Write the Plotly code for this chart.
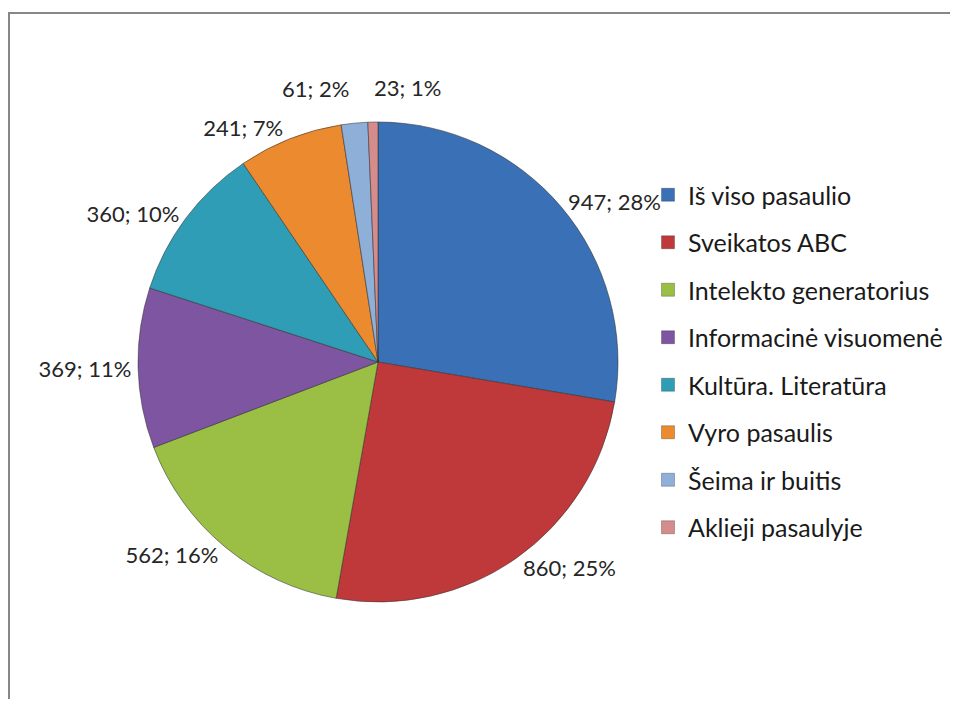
import math
import plotly.graph_objects as go

# Categories and values
categories = [
    "Iš viso pasaulio",
    "Sveikatos ABC",
    "Intelekto generatorius",
    "Informacinė visuomenė",
    "Kultūra. Literatūra",
    "Vyro pasaulis",
    "Šeima ir buitis",
    "Aklieji pasaulyje",
]
values = [947, 860, 562, 369, 360, 241, 61, 23]
# Percentages as printed on the chart
shown_percent = [28, 25, 16, 11, 10, 7, 2, 1]

colors = [
    "#3A70B5", "#C0393A", "#9BBF45", "#7D55A0",
    "#2E9DB5", "#EB8A2E", "#8EAFD8", "#D58C8C",
]

FONT = "Lato"
# page has an 8px body margin, so the figure is a bit smaller than the window
W, H = 950, 691
CX, CY, R = 378, 362, 240   # pie centre / radius in page pixels
SMALL = 2                   # last slices too thin for plotly's own labels
SMALL_DIST = 275
SMALL_ANCHOR = ["right", "left"]
LABEL_SIZE = 22


def px_x(x):
    return (x - 8) / W


def px_y(y):
    return 1 - (y - 8) / H


label_text = [f"{v}; {p}%" for v, p in zip(values, shown_percent)]
n_big = len(values) - SMALL

fig = go.Figure()

# Pie, clockwise from 12 o'clock like Excel; larger slices labelled outside
fig.add_trace(
    go.Pie(
        labels=categories,
        values=values,
        text=label_text[:n_big] + [""] * SMALL,
        textinfo="text",
        textposition="outside",
        textfont=dict(family=FONT, size=LABEL_SIZE, color="#262626"),
        sort=False,
        direction="clockwise",
        rotation=0,
        marker=dict(colors=colors, line=dict(color="rgba(50,50,50,0.55)", width=1)),
        showlegend=False,
        domain=dict(x=[px_x(CX - R), px_x(CX + R)], y=[px_y(CY + R), px_y(CY - R)]),
        hoverinfo="label+value",
    )
)

# Labels of the two thin slices, placed at their mid angle (no leader lines)
total = sum(values)
cum = sum(values[:n_big])
for i in range(n_big, len(values)):
    theta = 2 * math.pi * (cum + values[i] / 2) / total
    cum += values[i]
    fig.add_annotation(
        x=px_x(CX + SMALL_DIST * math.sin(theta)),
        y=px_y(CY - SMALL_DIST * math.cos(theta)),
        xref="paper", yref="paper",
        text=label_text[i], showarrow=False,
        xanchor=SMALL_ANCHOR[i - n_big], yanchor="middle",
        font=dict(family=FONT, size=LABEL_SIZE, color="#262626"),
    )

# Legend entries drawn with dummy square markers so spacing can be controlled
for name, col in zip(categories, colors):
    fig.add_trace(
        go.Scatter(
            x=[None], y=[None],
            mode="markers",
            name=name,
            legendgroup=name,
            marker=dict(symbol="square", size=13, color=col,
                        line=dict(color="rgba(0,0,0,0.25)", width=1)),
        )
    )

# Grey chart-area frame: only top and left edges are inside the screenshot
fig.add_shape(type="line", xref="paper", yref="paper",
              x0=1 / W, x1=1 / W, y0=-0.1, y1=px_y(13),
              line=dict(color="#878787", width=2))
fig.add_shape(type="line", xref="paper", yref="paper",
              x0=0, x1=1.1, y0=px_y(13), y1=px_y(13),
              line=dict(color="#878787", width=2))

fig.update_layout(
    width=W, height=H,
    margin=dict(l=0, r=0, t=0, b=0),
    paper_bgcolor="white",
    plot_bgcolor="white",
    xaxis=dict(visible=False),
    yaxis=dict(visible=False),
    legend=dict(
        x=px_x(648), y=px_y(172), xanchor="left", yanchor="top",
        font=dict(family=FONT, size=25, color="#1a1a1a"),
        tracegroupgap=12,
        itemwidth=30,
        bgcolor="rgba(0,0,0,0)",
    ),
    font=dict(family=FONT),
)

fig.write_html("out.html")
